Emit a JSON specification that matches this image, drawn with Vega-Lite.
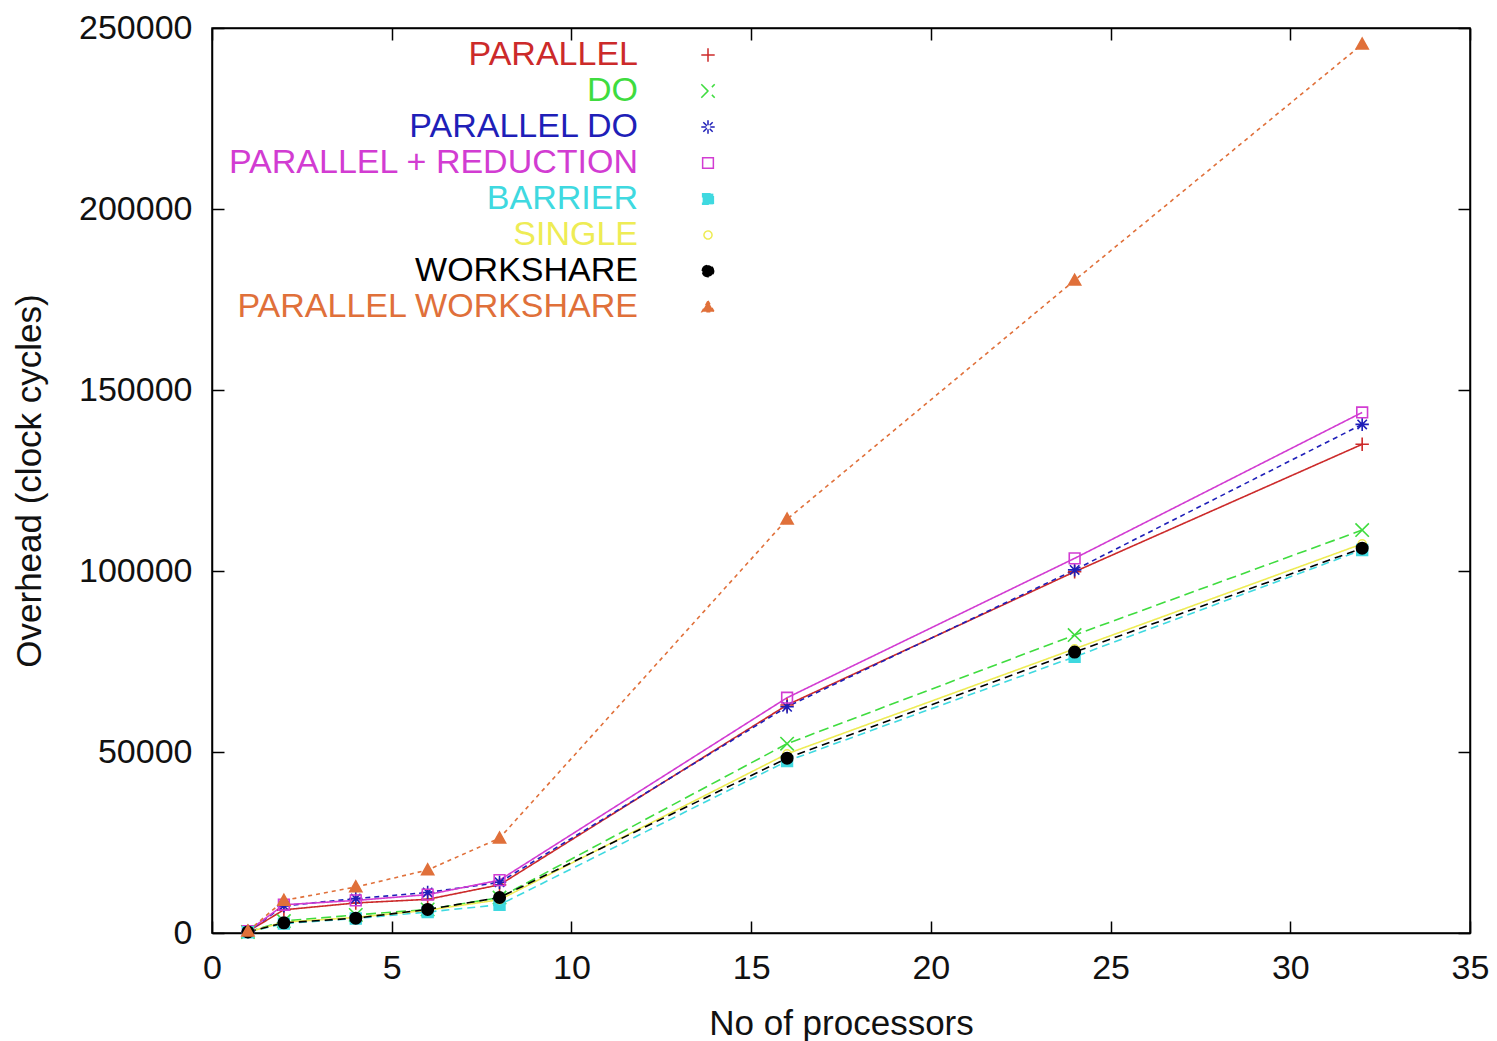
{
  "$schema": "https://vega.github.io/schema/vega-lite/v6.json",
  "width": 1258,
  "height": 905,
  "autosize": "none",
  "padding": {"left": 212, "top": 28, "right": 27, "bottom": 108},
  "background": "white",
  "config": {
    "view": {"stroke": "black", "strokeWidth": 1.5},
    "axis": {
      "labelFont": "Liberation Sans", "labelFontSize": 34, "labelColor": "#111", "labelFlush": false,
      "titleFont": "Liberation Sans", "titleFontSize": 35, "titleFontWeight": "normal", "titleColor": "#111",
      "tickSize": -12, "tickColor": "black", "tickWidth": 1.5,
      "domainColor": "black", "domainWidth": 1.5, "grid": false
    },
    "legend": {"orient": "none", "legendX": 426, "legendY": 10, "title": null, "padding": 0, "labelFont": "Liberation Sans", "labelFontSize": 34, "labelLimit": 800, "symbolSize": 180, "rowPadding": 2}
  },
  "data": {"values": [
    {"series": "PARALLEL", "x": 1, "y": 400}, {"series": "PARALLEL", "x": 2, "y": 6400}, {"series": "PARALLEL", "x": 4, "y": 8300}, {"series": "PARALLEL", "x": 6, "y": 9300}, {"series": "PARALLEL", "x": 8, "y": 13300}, {"series": "PARALLEL", "x": 16, "y": 63000}, {"series": "PARALLEL", "x": 24, "y": 99800}, {"series": "PARALLEL", "x": 32, "y": 135000},
    {"series": "DO", "x": 1, "y": 300}, {"series": "DO", "x": 2, "y": 3300}, {"series": "DO", "x": 4, "y": 5000}, {"series": "DO", "x": 6, "y": 6500}, {"series": "DO", "x": 8, "y": 9800}, {"series": "DO", "x": 16, "y": 52300}, {"series": "DO", "x": 24, "y": 82300}, {"series": "DO", "x": 32, "y": 111300},
    {"series": "PARALLEL DO", "x": 1, "y": 400}, {"series": "PARALLEL DO", "x": 2, "y": 7500}, {"series": "PARALLEL DO", "x": 4, "y": 9500}, {"series": "PARALLEL DO", "x": 6, "y": 11200}, {"series": "PARALLEL DO", "x": 8, "y": 14000}, {"series": "PARALLEL DO", "x": 16, "y": 62500}, {"series": "PARALLEL DO", "x": 24, "y": 100300}, {"series": "PARALLEL DO", "x": 32, "y": 140500},
    {"series": "PARALLEL + REDUCTION", "x": 1, "y": 500}, {"series": "PARALLEL + REDUCTION", "x": 2, "y": 7800}, {"series": "PARALLEL + REDUCTION", "x": 4, "y": 9000}, {"series": "PARALLEL + REDUCTION", "x": 6, "y": 10600}, {"series": "PARALLEL + REDUCTION", "x": 8, "y": 14600}, {"series": "PARALLEL + REDUCTION", "x": 16, "y": 65000}, {"series": "PARALLEL + REDUCTION", "x": 24, "y": 103500}, {"series": "PARALLEL + REDUCTION", "x": 32, "y": 143800},
    {"series": "BARRIER", "x": 1, "y": 200}, {"series": "BARRIER", "x": 2, "y": 2600}, {"series": "BARRIER", "x": 4, "y": 4000}, {"series": "BARRIER", "x": 6, "y": 5800}, {"series": "BARRIER", "x": 8, "y": 7800}, {"series": "BARRIER", "x": 16, "y": 47500}, {"series": "BARRIER", "x": 24, "y": 76300}, {"series": "BARRIER", "x": 32, "y": 105800},
    {"series": "SINGLE", "x": 1, "y": 250}, {"series": "SINGLE", "x": 2, "y": 3000}, {"series": "SINGLE", "x": 4, "y": 4300}, {"series": "SINGLE", "x": 6, "y": 6300}, {"series": "SINGLE", "x": 8, "y": 9200}, {"series": "SINGLE", "x": 16, "y": 49500}, {"series": "SINGLE", "x": 24, "y": 78500}, {"series": "SINGLE", "x": 32, "y": 107500},
    {"series": "WORKSHARE", "x": 1, "y": 300}, {"series": "WORKSHARE", "x": 2, "y": 2800}, {"series": "WORKSHARE", "x": 4, "y": 4100}, {"series": "WORKSHARE", "x": 6, "y": 6500}, {"series": "WORKSHARE", "x": 8, "y": 9800}, {"series": "WORKSHARE", "x": 16, "y": 48300}, {"series": "WORKSHARE", "x": 24, "y": 77600}, {"series": "WORKSHARE", "x": 32, "y": 106300},
    {"series": "PARALLEL WORKSHARE", "x": 1, "y": 500}, {"series": "PARALLEL WORKSHARE", "x": 2, "y": 9000}, {"series": "PARALLEL WORKSHARE", "x": 4, "y": 12700}, {"series": "PARALLEL WORKSHARE", "x": 6, "y": 17400}, {"series": "PARALLEL WORKSHARE", "x": 8, "y": 26200}, {"series": "PARALLEL WORKSHARE", "x": 16, "y": 114300}, {"series": "PARALLEL WORKSHARE", "x": 24, "y": 180300}, {"series": "PARALLEL WORKSHARE", "x": 32, "y": 245500}
  ]},
  "resolve": {"axis": {"x": "independent", "y": "independent"}},
  "layer": [
    {
      "mark": {"type": "line", "strokeWidth": 1.6},
      "encoding": {
        "x": {"field": "x", "type": "quantitative", "scale": {"domain": [0, 35], "nice": false}, "axis": {"values": [0, 5, 10, 15, 20, 25, 30, 35], "title": "No of processors", "labelPadding": 30, "titlePadding": 21}},
        "y": {"field": "y", "type": "quantitative", "scale": {"domain": [0, 250000], "nice": false}, "axis": {"values": [0, 50000, 100000, 150000, 200000, 250000], "format": "d", "title": "Overhead (clock cycles)", "labelPadding": 32, "titlePadding": 31}},
        "color": {"field": "series", "type": "nominal", "scale": {"domain": ["PARALLEL", "DO", "PARALLEL DO", "PARALLEL + REDUCTION", "BARRIER", "SINGLE", "WORKSHARE", "PARALLEL WORKSHARE"], "range": ["#cc2a2a", "#3fdc3f", "#1f1fb8", "#d23cd2", "#3fd9e0", "#eeec55", "#000000", "#e0703a"]},
          "legend": {"encoding": {
              "labels": {"x": {"value": 0}, "align": {"value": "right"}, "fill": {"value": {"expr": "scale('color', datum.value)"}}},
              "symbols": {"x": {"value": 70}, "shape": {"value": {"expr": "'M-7.3,0H7.3' + (datum.value === 'PARALLEL' ? 'M0,-1V1' : datum.value === 'DO' ? 'M-1,-1L1,1M-1,1L1,-1' : datum.value === 'PARALLEL DO' ? 'M0,-1V1M-0.7,-0.7L0.7,0.7M-0.7,0.7L0.7,-0.7' : datum.value === 'SINGLE' ? 'M-0.6,0A0.6,0.6,0,1,1,0.6,0A0.6,0.6,0,1,1,-0.6,0Z' : datum.value === 'WORKSHARE' ? 'M-0.85,0A0.85,0.85,0,1,1,0.85,0A0.85,0.85,0,1,1,-0.85,0Z' : datum.value === 'PARALLEL WORKSHARE' ? 'M0,-0.9L0.9,0.7H-0.9Z' : 'M-0.8,-0.8H0.8V0.8H-0.8Z')"}}, "fill": {"value": {"expr": "scale('fill', datum.value)"}}, "stroke": {"value": {"expr": "scale('color', datum.value)"}}, "strokeWidth": {"value": 1.5}}
            }}},
        "strokeDash": {"field": "series", "type": "nominal", "scale": {"domain": ["PARALLEL", "DO", "PARALLEL DO", "PARALLEL + REDUCTION", "BARRIER", "SINGLE", "WORKSHARE", "PARALLEL WORKSHARE"], "range": [[1, 0], [10, 5], [5, 4], [1, 0], [8, 5], [1, 0], [8, 5], [4, 4]]}, "legend": null}
      }
    },
    {
      "mark": {"type": "point", "filled": false, "size": 180, "strokeWidth": 1.6, "opacity": 1},
      "encoding": {
        "x": {"field": "x", "type": "quantitative", "axis": null},
        "y": {"field": "y", "type": "quantitative", "axis": null},
        "color": {"field": "series", "type": "nominal",
          "legend": {"encoding": {
              "labels": {"x": {"value": 0}, "align": {"value": "right"}, "fill": {"value": {"expr": "scale('color', datum.value)"}}},
              "symbols": {"x": {"value": 70}, "shape": {"value": {"expr": "'M-7.3,0H7.3' + (datum.value === 'PARALLEL' ? 'M0,-1V1' : datum.value === 'DO' ? 'M-1,-1L1,1M-1,1L1,-1' : datum.value === 'PARALLEL DO' ? 'M0,-1V1M-0.7,-0.7L0.7,0.7M-0.7,0.7L0.7,-0.7' : datum.value === 'SINGLE' ? 'M-0.6,0A0.6,0.6,0,1,1,0.6,0A0.6,0.6,0,1,1,-0.6,0Z' : datum.value === 'WORKSHARE' ? 'M-0.85,0A0.85,0.85,0,1,1,0.85,0A0.85,0.85,0,1,1,-0.85,0Z' : datum.value === 'PARALLEL WORKSHARE' ? 'M0,-0.9L0.9,0.7H-0.9Z' : 'M-0.8,-0.8H0.8V0.8H-0.8Z')"}}, "fill": {"value": {"expr": "scale('fill', datum.value)"}}, "stroke": {"value": {"expr": "scale('color', datum.value)"}}, "strokeWidth": {"value": 1.5}}
            }}},
        "shape": {"field": "series", "type": "nominal", "scale": {"domain": ["PARALLEL", "DO", "PARALLEL DO", "PARALLEL + REDUCTION", "BARRIER", "SINGLE", "WORKSHARE", "PARALLEL WORKSHARE"], "range": ["M-1,0H1M0,-1V1", "M-1,-1L1,1M-1,1L1,-1", "M-1,0H1M0,-1V1M-0.7,-0.7L0.7,0.7M-0.7,0.7L0.7,-0.7", "M-0.8,-0.8H0.8V0.8H-0.8Z", "M-0.8,-0.8H0.8V0.8H-0.8Z", "M-0.6,0A0.6,0.6,0,1,1,0.6,0A0.6,0.6,0,1,1,-0.6,0Z", "M-0.85,0A0.85,0.85,0,1,1,0.85,0A0.85,0.85,0,1,1,-0.85,0Z", "M0,-0.9L0.9,0.7H-0.9Z"]}, "legend": null},
        "fill": {"field": "series", "type": "nominal", "scale": {"domain": ["PARALLEL", "DO", "PARALLEL DO", "PARALLEL + REDUCTION", "BARRIER", "SINGLE", "WORKSHARE", "PARALLEL WORKSHARE"], "range": ["transparent", "transparent", "transparent", "transparent", "#3fd9e0", "transparent", "#000000", "#e0703a"]}, "legend": null}
      }
    },
    {
      "mark": {"type": "point", "opacity": 0},
      "encoding": {
        "x": {"field": "x", "type": "quantitative", "axis": {"orient": "top", "values": [0, 5, 10, 15, 20, 25, 30, 35], "labels": false, "title": null}},
        "y": {"field": "y", "type": "quantitative", "axis": {"orient": "right", "values": [0, 50000, 100000, 150000, 200000, 250000], "labels": false, "title": null}}
      }
    }
  ]
}
